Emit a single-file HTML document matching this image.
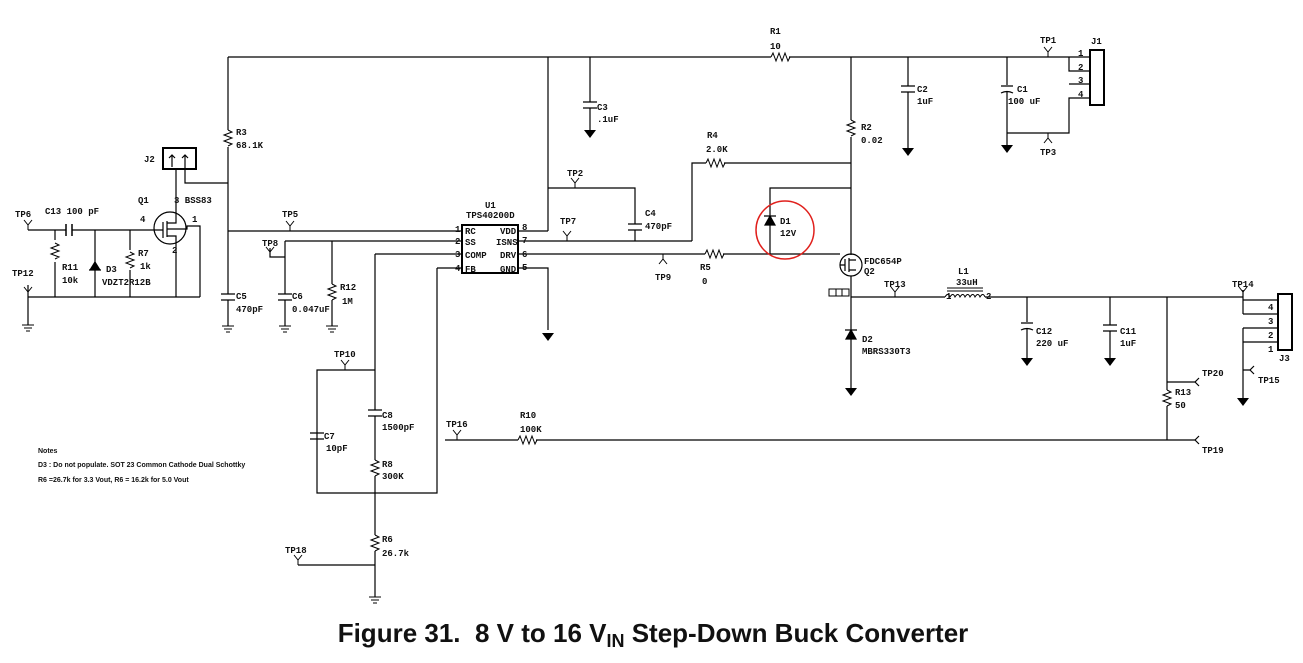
<!DOCTYPE html>
<html><head><meta charset="utf-8"><style>
html,body{margin:0;padding:0;background:#fff;}
svg{display:block;}
text{font-family:"Liberation Sans",sans-serif;font-size:9px;fill:#111;}
.t{font-family:"Liberation Mono",monospace;font-size:9px;font-weight:bold;}
</style></head><body>
<svg width="1303" height="663" viewBox="0 0 1303 663" xmlns="http://www.w3.org/2000/svg">
<defs>
<g id="gnd"><path d="M-6,0H6M-4,3H4M-2,6H2" stroke="#000" fill="none" stroke-width="1"/></g>
<g id="arr"><path d="M-6,0H6L0,8Z" fill="#000"/></g>
<g id="rv"><path d="M0,0l4,2l-8,3l8,3l-8,3l8,3l-4,2" stroke="#000" fill="none" stroke-width="1"/></g>
<g id="rh"><path d="M0,0l2,-4l3,8l3,-8l3,8l3,-8l3,8l2,-4" stroke="#000" fill="none" stroke-width="1"/></g>
<g id="tp"><path d="M0,0V-5M0,-5l-4,-5M0,-5l4,-5" stroke="#000" fill="none" stroke-width="1"/></g>
</defs>
<g stroke="#000" stroke-width="1.2" fill="none">
<path d="M228,57H771M789,57H1069"/>
<use href="#rh" x="771" y="57"/>
<path d="M228,57V130M228,147V294M228,300V326"/>
<use href="#rv" x="228" y="130"/>
<path d="M221,294h14M221,300h14"/>
<rect x="163" y="148" width="33" height="21" stroke-width="2"/>
<path d="M172,167V155M169,158l3,-3l3,3M185,167V155M182,158l3,-3l3,3"/>
<path d="M185,167V183H228M176,169V218"/>
<circle cx="170" cy="228" r="16"/>
<path d="M140,230H163M163,222V238M167,221V237M167,223H176V218M167,236H176V297M167,229H187V226H200V297"/>
<path d="M28,230H66M72,230H140M28,285V325M28,297H200M55,230V240M55,262V297M95,230V297M130,230V250M130,270V297"/>
<path d="M66,224v12M72,224v12" stroke-width="1.5"/>
<use href="#rv" x="55" y="243"/>
<use href="#rv" x="130" y="252"/>
<path d="M89,270h12M95,262l-5,8h10z" fill="#000"/>
<path d="M228,231H462M270,248V257H285M285,241H462M285,241V294M285,300V326M332,241V284M332,300V326"/>
<path d="M278,294h14M278,300h14"/>
<use href="#rv" x="332" y="284"/>
<path d="M375,254H462M375,254V410M375,416V460M375,476V535M375,551V597M437,268H462M437,268V493H317V370H375M317,370V433M317,439V493"/>
<path d="M368,410h14M368,416h14M310,433h14M310,439h14"/>
<use href="#rv" x="375" y="460"/>
<use href="#rv" x="375" y="535"/>
<path d="M298,565H375"/>
<rect x="462" y="225" width="56" height="48" stroke-width="2"/>
<path d="M518,231H548M518,241H692M518,254H705M723,254H840M518,268H548V330"/>
<path d="M548,57V231M548,188H635V224M635,230V241M692,241V163H706M724,163H851"/>
<path d="M628,224h14M628,230h14"/>
<path d="M590,57V102M590,108V130M583,102h14M583,108h14"/>
<use href="#rh" x="706" y="163"/>
<use href="#rh" x="705" y="254"/>
<path d="M770,254V188H851"/>
<path d="M764,216h12M770,216l-5,9h10z" fill="#000"/>
<circle cx="785" cy="230" r="29" stroke="#e0201c" stroke-width="1.5"/>
<path d="M851,57V120M851,137V255M851,276V390M908,57V86M908,92V148M1007,57V85M1007,91V145M1007,133H1069V98H1090M1069,84H1090M1069,57V71H1090M1069,57H1090"/>
<rect x="1090" y="50" width="14" height="55" stroke-width="2"/>
<use href="#rv" x="851" y="120"/>
<path d="M901,86h14M901,92h14M1001,86h12"/>
<path d="M1001,93q6,-3 12,0" />
<circle cx="851" cy="265" r="11"/>
<path d="M840,265H845M845,259V271M849,258V272M849,260H856M849,270H856"/>
<rect x="829" y="289" width="20" height="7" stroke-width="1"/>
<path d="M836,289v7M842,289v7" stroke-width="1"/>
<path d="M845,330h12M851,330l-5,9h10z" fill="#000"/>
<path d="M851,297H945M985,297H1243M1027,297V322M1027,328V358M1110,297V325M1110,331V358M1167,297V390M1167,406V440M1167,382H1195M445,440H518M536,440H1195"/>
<path d="M1243,290V314M1243,300H1278M1243,314H1278M1243,328H1278M1243,342H1278M1243,328V400M1243,370H1250"/>
<rect x="1278" y="294" width="14" height="56" stroke-width="2"/>
<path d="M1021,323h12M1021,330q6,-3 12,0M1103,325h14M1103,331h14"/>
<use href="#rv" x="1167" y="390"/>
<path d="M945,297q3,-5 5,0q3,-5 5,0q3,-5 5,0q3,-5 5,0q3,-5 5,0q3,-5 5,0q3,-5 5,0q3,-5 5,0M947,291H983M947,288H983" stroke-width="1"/>
<use href="#rh" x="518" y="440"/>
<path d="M1195,382l4,-4M1195,382l4,4M1195,440l4,-4M1195,440l4,4M1250,370l4,-4M1250,370l4,4"/>
</g>
<g>
<use href="#gnd" x="28" y="325"/><use href="#gnd" x="228" y="326"/><use href="#gnd" x="285" y="326"/><use href="#gnd" x="332" y="326"/><use href="#gnd" x="375" y="597"/>
<use href="#arr" x="548" y="333"/><use href="#arr" x="590" y="130"/><use href="#arr" x="908" y="148"/><use href="#arr" x="1007" y="145"/><use href="#arr" x="851" y="388"/><use href="#arr" x="1027" y="358"/><use href="#arr" x="1110" y="358"/><use href="#arr" x="1243" y="398"/>
<use href="#tp" x="28" y="230"/><use href="#tp" x="28" y="297"/><use href="#tp" x="290" y="231"/><use href="#tp" x="270" y="257"/><use href="#tp" x="575" y="188"/><use href="#tp" x="567" y="241"/><use href="#tp" x="345" y="370"/><use href="#tp" x="457" y="440"/><use href="#tp" x="298" y="565"/><use href="#tp" x="895" y="297"/><use href="#tp" x="1243" y="297"/><use href="#tp" x="1048" y="57"/>
<g transform="translate(663,254) scale(1,-1)"><use href="#tp"/></g>
<g transform="translate(1048,133) scale(1,-1)"><use href="#tp"/></g>
</g>
<g class="t">
<text class="t" x="15" y="217">TP6</text><text class="t" x="45" y="214">C13  100 pF</text>
<text class="t" x="12" y="276">TP12</text><text class="t" x="62" y="270">R11</text><text class="t" x="62" y="283">10k</text>
<text class="t" x="106" y="272">D3</text><text class="t" x="102" y="285">VDZT2R12B</text>
<text class="t" x="138" y="256">R7</text><text class="t" x="140" y="269">1k</text>
<text class="t" x="138" y="203">Q1</text><text class="t" x="174" y="203">3 BSS83</text><text class="t" x="140" y="222">4</text><text class="t" x="192" y="222">1</text><text class="t" x="172" y="253">2</text>
<text class="t" x="144" y="162">J2</text>
<text class="t" x="236" y="135">R3</text><text class="t" x="236" y="148">68.1K</text>
<text class="t" x="236" y="299">C5</text><text class="t" x="236" y="312">470pF</text>
<text class="t" x="292" y="299">C6</text><text class="t" x="292" y="312">0.047uF</text>
<text class="t" x="340" y="290">R12</text><text class="t" x="342" y="304">1M</text>
<text class="t" x="282" y="217">TP5</text><text class="t" x="262" y="246">TP8</text>
<text class="t" x="485" y="208">U1</text><text class="t" x="466" y="218">TPS40200D</text>
<text class="t" x="455" y="232">1</text><text class="t" x="455" y="244">2</text><text class="t" x="455" y="257">3</text><text class="t" x="455" y="271">4</text>
<text class="t" x="465" y="234">RC</text><text class="t" x="465" y="245">SS</text><text class="t" x="465" y="258">COMP</text><text class="t" x="465" y="272">FB</text>
<text class="t" x="500" y="234">VDD</text><text class="t" x="496" y="245">ISNS</text><text class="t" x="500" y="258">DRV</text><text class="t" x="500" y="272">GND</text>
<text class="t" x="522" y="230">8</text><text class="t" x="522" y="243">7</text><text class="t" x="522" y="257">6</text><text class="t" x="522" y="270">5</text>
<text class="t" x="597" y="110">C3</text><text class="t" x="597" y="122">.1uF</text>
<text class="t" x="567" y="176">TP2</text><text class="t" x="560" y="224">TP7</text>
<text class="t" x="645" y="216">C4</text><text class="t" x="645" y="229">470pF</text>
<text class="t" x="707" y="138">R4</text><text class="t" x="706" y="152">2.0K</text>
<text class="t" x="655" y="280">TP9</text><text class="t" x="700" y="270">R5</text><text class="t" x="702" y="284">0</text>
<text class="t" x="780" y="224">D1</text><text class="t" x="780" y="236">12V</text>
<text class="t" x="770" y="34">R1</text><text class="t" x="770" y="49">10</text>
<text class="t" x="861" y="130">R2</text><text class="t" x="861" y="143">0.02</text>
<text class="t" x="864" y="264">FDC654P</text><text class="t" x="864" y="274">Q2</text>
<text class="t" x="917" y="92">C2</text><text class="t" x="917" y="104">1uF</text>
<text class="t" x="1017" y="92">C1</text><text class="t" x="1008" y="104">100 uF</text>
<text class="t" x="1040" y="43">TP1</text><text class="t" x="1040" y="155">TP3</text><text class="t" x="1091" y="44">J1</text>
<text class="t" x="1078" y="56">1</text><text class="t" x="1078" y="70">2</text><text class="t" x="1078" y="83">3</text><text class="t" x="1078" y="97">4</text>
<text class="t" x="884" y="287">TP13</text><text class="t" x="958" y="274">L1</text><text class="t" x="956" y="285">33uH</text><text class="t" x="946" y="299">1</text><text class="t" x="986" y="299">2</text>
<text class="t" x="862" y="342">D2</text><text class="t" x="862" y="354">MBRS330T3</text>
<text class="t" x="1036" y="334">C12</text><text class="t" x="1036" y="346">220 uF</text>
<text class="t" x="1120" y="334">C11</text><text class="t" x="1120" y="346">1uF</text>
<text class="t" x="1175" y="395">R13</text><text class="t" x="1175" y="408">50</text>
<text class="t" x="1202" y="376">TP20</text><text class="t" x="1258" y="383">TP15</text><text class="t" x="1202" y="453">TP19</text>
<text class="t" x="1232" y="287">TP14</text><text class="t" x="1279" y="361">J3</text>
<text class="t" x="1268" y="310">4</text><text class="t" x="1268" y="324">3</text><text class="t" x="1268" y="338">2</text><text class="t" x="1268" y="352">1</text>
<text class="t" x="334" y="357">TP10</text>
<text class="t" x="382" y="418">C8</text><text class="t" x="382" y="430">1500pF</text>
<text class="t" x="324" y="439">C7</text><text class="t" x="326" y="451">10pF</text>
<text class="t" x="382" y="467">R8</text><text class="t" x="382" y="479">300K</text>
<text class="t" x="382" y="542">R6</text><text class="t" x="382" y="556">26.7k</text>
<text class="t" x="285" y="553">TP18</text><text class="t" x="446" y="427">TP16</text>
<text class="t" x="520" y="418">R10</text><text class="t" x="520" y="432">100K</text>
</g>
<g>
<text x="38" y="453" style="font-size:7px;font-weight:bold">Notes</text>
<text x="38" y="467" style="font-size:7px;font-weight:bold">D3 : Do not populate. SOT 23 Common Cathode Dual Schottky</text>
<text x="38" y="482" style="font-size:7px;font-weight:bold">R6 =26.7k for 3.3 Vout, R6 = 16.2k for 5.0 Vout</text>
</g>
<text x="653" y="642" text-anchor="middle" style="font-size:26px;font-weight:bold;font-family:'Liberation Sans',sans-serif">Figure 31.&#160; 8 V to 16 V<tspan dy="5" style="font-size:18px">IN</tspan><tspan dy="-5"> Step-Down Buck Converter</tspan></text>
</svg>
</body></html>
